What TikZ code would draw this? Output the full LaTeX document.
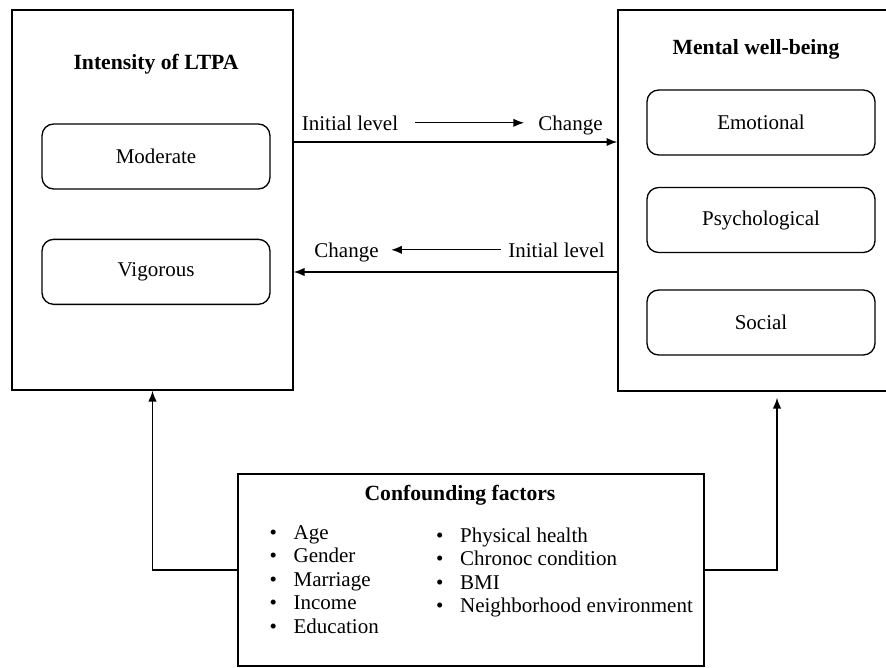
\documentclass[tikz,border=0pt]{standalone}
\usepackage{fontspec}
\setmainfont{Liberation Serif}
\usetikzlibrary{positioning,arrows.meta}

\tikzset{
  bigbox/.style={draw, line width=0.8pt, inner sep=0pt},
  subbox/.style={draw, line width=0.8pt, rounded corners=7pt, minimum width=136.8pt, minimum height=39pt},
  txt/.style={font=\fontsize{12.6}{14}\selectfont},
  hdr/.style={font=\fontsize{13}{15}\selectfont\bfseries},
  item/.style={txt, anchor=base west, inner sep=0pt}
}
\newcommand{\bul}{\makebox[14.4pt][l]{\textbullet}}

\begin{document}
\begin{tikzpicture}[x=0.6pt,y=-0.6pt,>={Latex[length=6.5pt,width=5pt]},line width=0.8pt]
   \useasboundingbox (0,0) rectangle (886,667);
   % the three frames
   \node[bigbox, minimum width=168.6pt, minimum height=228pt] (ltpa) at (152.5,200) {};
   \node[bigbox, minimum width=190.8pt, minimum height=228.6pt] (mwb) at (777,200.5) {};
   \node[bigbox, minimum width=279.6pt, minimum height=115.2pt] (conf) at (471,570) {};
   \node[hdr] (ltpa-t) at (156,64) {Intensity of LTPA};
   \node[hdr] (mwb-t) at (756,49) {Mental well-being};
   \node[hdr] (conf-t) at (460,495) {Confounding factors};
   % inner boxes
   \node[subbox, txt] (mod) at (156,156.5) {Moderate};
   \node[subbox, txt, below=29.4pt of mod] (vig) {Vigorous};
   \node[subbox, txt] (emo) at (761,122.5) {Emotional};
   \node[subbox, txt] (psy) at (761,220) {Psychological};
   \node[subbox, txt] (soc) at (761,322.5) {Social};
   % labels on the arrows
   \node[txt, anchor=base] (init1) at (350,130) {Initial level};
   \node[txt, anchor=base] (chg1) at (570.5,130) {Change};
   \node[txt, anchor=base] (chg2) at (346.5,257) {Change};
   \node[txt, anchor=base] (init2) at (556.5,257) {Initial level};
   % confounders
   \foreach \f [count=\i] in {Age,Gender,Marriage,Income,Education}
      \node[item] (cl-\i) at (269,{539+23.5*(\i-1)}) {\bul\f};
   \foreach \f [count=\i] in {Physical health,Chronoc condition,BMI,Neighborhood environment}
      \node[item] (cr-\i) at (435.5,{542+23.5*(\i-1)}) {\bul\f};
   % arrows
   \draw[->] (ltpa.east |- 0,142) -- (mwb.west |- 0,142);
   \draw[->] (mwb.west |- 0,272) -- (ltpa.east |- 0,272);
   \draw[->, shorten <=6.6pt, shorten >=4.8pt] (init1.east) -- (init1.east -| chg1.west);
   \draw[->, shorten <=0.6pt, shorten >=3.8pt] (init2.west) -- (init2.west -| chg2.east);
   \draw[->] (conf.west) -| (ltpa.south);
   \draw[->, shorten >=3.6pt] (conf.east) -| (mwb.south);
\end{tikzpicture}
\end{document}
